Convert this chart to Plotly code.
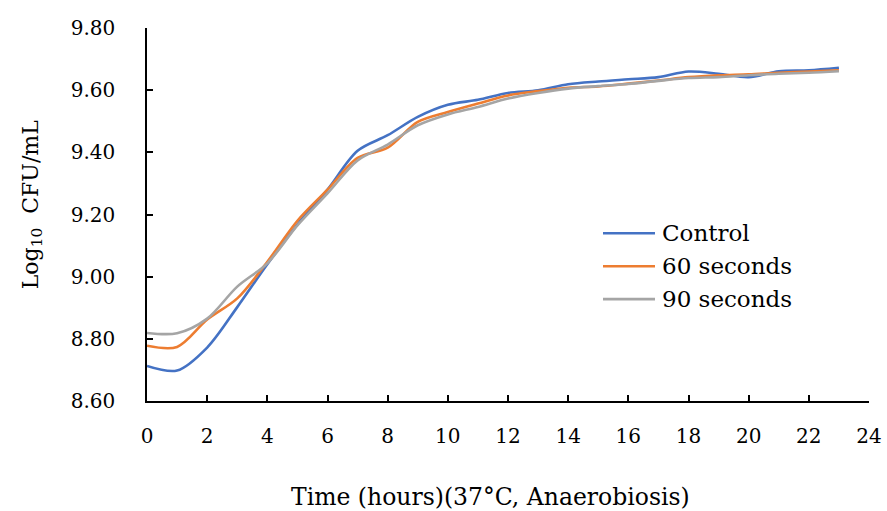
import plotly.graph_objects as go

hours = list(range(0, 24))
series_names = ["Control", "60 seconds", "90 seconds"]
control = [8.713, 8.698, 8.772, 8.902, 9.040, 9.168, 9.280, 9.405, 9.455, 9.514, 9.553, 9.569,
           9.591, 9.600, 9.619, 9.628, 9.635, 9.642, 9.660, 9.653, 9.642, 9.661, 9.664, 9.672]
sec60 = [8.778, 8.774, 8.862, 8.930, 9.048, 9.180, 9.280, 9.382, 9.415, 9.498, 9.530, 9.557,
         9.583, 9.597, 9.608, 9.612, 9.621, 9.631, 9.642, 9.648, 9.651, 9.656, 9.660, 9.664]
sec90 = [8.819, 8.818, 8.865, 8.968, 9.043, 9.165, 9.268, 9.374, 9.425, 9.487, 9.522, 9.546,
         9.573, 9.591, 9.605, 9.613, 9.620, 9.630, 9.639, 9.642, 9.648, 9.653, 9.656, 9.661]
colors = ["#4472C4", "#ED7D31", "#A5A5A5"]
x_ticks = list(range(0, 25, 2))
y_ticks = [8.60, 8.80, 9.00, 9.20, 9.40, 9.60, 9.80]
x_title = "Time (hours)(37°C, Anaerobiosis)"
y_title = "Log<sub>10</sub>  CFU/mL"

FONT = "DejaVu Serif"
W, H = 887, 511
L, R, T, B = 147, 18, 27.5, 110
pw, ph = W - L - R, H - T - B

fig = go.Figure()
for name, vals, col in zip(series_names, [control, sec60, sec90], colors):
    fig.add_trace(go.Scatter(x=hours, y=vals, name=name, mode="lines",
                             line=dict(color=col, width=2.6, shape="spline", smoothing=0.9),
                             showlegend=False))

# custom legend (line samples + text)
leg_y = [233, 266, 299]
for name, col, py in zip(series_names, colors, leg_y):
    yp = (H - B - py) / ph
    fig.add_shape(type="line", xref="paper", yref="paper",
                  x0=(603 - L) / pw, x1=(655 - L) / pw, y0=yp, y1=yp,
                  line=dict(color=col, width=2.6))
    fig.add_annotation(xref="paper", yref="paper", x=(660 - L) / pw, y=yp,
                       text=name, showarrow=False, xanchor="left", yanchor="middle",
                       font=dict(family=FONT, size=23, color="#000"))

# axis titles
fig.add_annotation(xref="paper", yref="paper", x=(490 - L) / pw, y=-(497 - (H - B)) / ph,
                   text=x_title, showarrow=False, xanchor="center", yanchor="middle",
                   font=dict(family=FONT, size=23.5, color="#000"))
fig.add_annotation(xref="paper", yref="paper", x=(32 - L) / pw, y=((H - B) - 205) / ph,
                   text=y_title, showarrow=False, xanchor="center", yanchor="middle",
                   textangle=-90, font=dict(family=FONT, size=22, color="#000"))

axis_common = dict(showline=True, linecolor="black", linewidth=1.5, ticks="inside",
                   ticklen=6, tickwidth=1.5, tickcolor="black", showgrid=False,
                   zeroline=False, automargin=False,
                   tickfont=dict(family=FONT, size=20, color="#000"))

fig.update_xaxes(range=[0, 24], tickvals=x_ticks, ticklabelstandoff=16, **axis_common)
fig.update_yaxes(range=[8.6, 9.8], tickvals=y_ticks, tickformat=".2f", ticklabelstandoff=26,
                 **axis_common)

fig.update_layout(width=W, height=H, margin=dict(l=L, r=R, t=T, b=B),
                  plot_bgcolor="white", paper_bgcolor="white", showlegend=False)

fig.write_html("out.html")
